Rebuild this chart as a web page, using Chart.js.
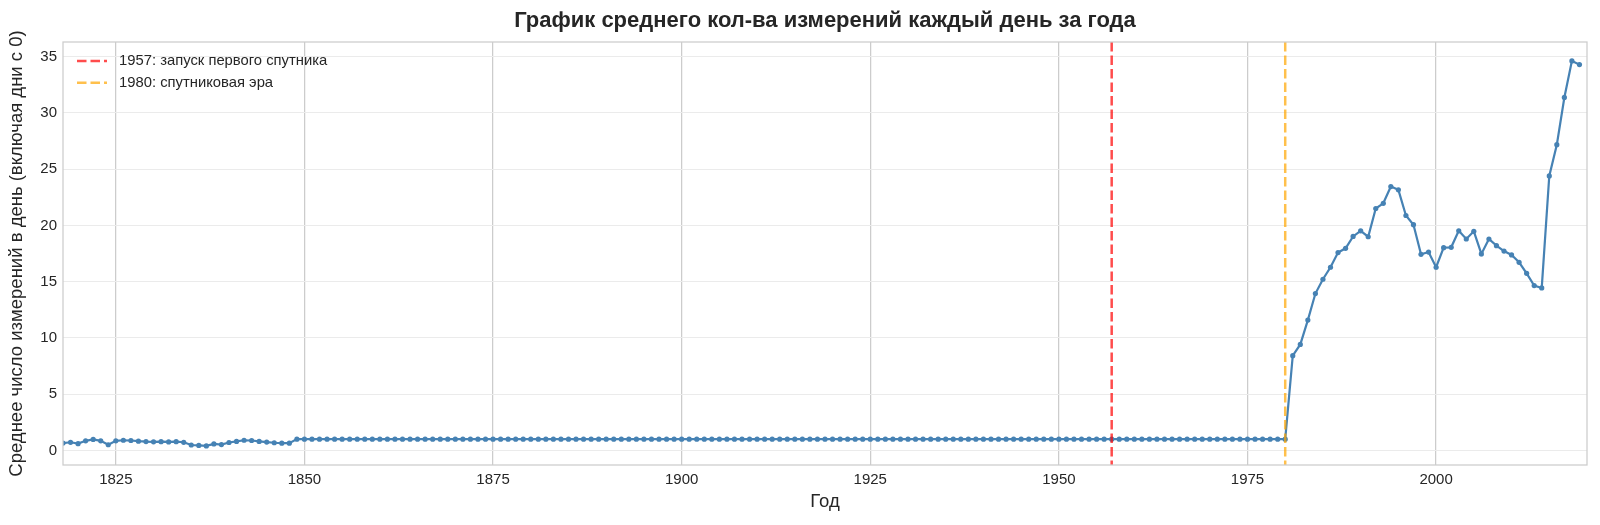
<!DOCTYPE html>
<html><head><meta charset="utf-8">
<script src="https://cdn.jsdelivr.net/npm/chart.js@4/dist/chart.umd.min.js"></script>
<style>html,body{margin:0;padding:0;background:#fff;overflow:hidden}</style>
</head><body>
<canvas id="c" width="1600" height="525"></canvas>
<script>
const years = [
  1818,1819,1820,1821,1822,1823,1824,1825,1826,1827,
  1828,1829,1830,1831,1832,1833,1834,1835,1836,1837,
  1838,1839,1840,1841,1842,1843,1844,1845,1846,1847,
  1848,1849,1850,1851,1852,1853,1854,1855,1856,1857,
  1858,1859,1860,1861,1862,1863,1864,1865,1866,1867,
  1868,1869,1870,1871,1872,1873,1874,1875,1876,1877,
  1878,1879,1880,1881,1882,1883,1884,1885,1886,1887,
  1888,1889,1890,1891,1892,1893,1894,1895,1896,1897,
  1898,1899,1900,1901,1902,1903,1904,1905,1906,1907,
  1908,1909,1910,1911,1912,1913,1914,1915,1916,1917,
  1918,1919,1920,1921,1922,1923,1924,1925,1926,1927,
  1928,1929,1930,1931,1932,1933,1934,1935,1936,1937,
  1938,1939,1940,1941,1942,1943,1944,1945,1946,1947,
  1948,1949,1950,1951,1952,1953,1954,1955,1956,1957,
  1958,1959,1960,1961,1962,1963,1964,1965,1966,1967,
  1968,1969,1970,1971,1972,1973,1974,1975,1976,1977,
  1978,1979,1980,1981,1982,1983,1984,1985,1986,1987,
  1988,1989,1990,1991,1992,1993,1994,1995,1996,1997,
  1998,1999,2000,2001,2002,2003,2004,2005,2006,2007,
  2008,2009,2010,2011,2012,2013,2014,2015,2016,2017,
  2018,2019
];
const avgMeasurements = [
  0.65,0.72,0.60,0.85,0.97,0.85,0.50,0.85,0.90,0.88,
  0.82,0.78,0.76,0.77,0.75,0.77,0.72,0.48,0.44,0.40,
  0.57,0.52,0.70,0.80,0.90,0.88,0.80,0.74,0.68,0.64,
  0.64,
  1.0,1.0,1.0,1.0,1.0,1.0,1.0,1.0,1.0,1.0,1.0,1.0,
  1.0,1.0,1.0,1.0,1.0,1.0,1.0,1.0,1.0,1.0,1.0,1.0,
  1.0,1.0,1.0,1.0,1.0,1.0,1.0,1.0,1.0,1.0,1.0,1.0,
  1.0,1.0,1.0,1.0,1.0,1.0,1.0,1.0,1.0,1.0,1.0,1.0,
  1.0,1.0,1.0,1.0,1.0,1.0,1.0,1.0,1.0,1.0,1.0,1.0,
  1.0,1.0,1.0,1.0,1.0,1.0,1.0,1.0,1.0,1.0,1.0,1.0,
  1.0,1.0,1.0,1.0,1.0,1.0,1.0,1.0,1.0,1.0,1.0,1.0,
  1.0,1.0,1.0,1.0,1.0,1.0,1.0,1.0,1.0,1.0,1.0,1.0,
  1.0,1.0,1.0,1.0,1.0,1.0,1.0,1.0,1.0,1.0,1.0,1.0,
  1.0,1.0,1.0,1.0,1.0,1.0,1.0,1.0,1.0,1.0,1.0,1.0,
  1.0,1.0,1.0,1.0,1.0,1.0,1.0,1.0,1.0,1.0,1.0,1.0,
  8.42,9.42,11.58,13.94,15.21,16.28,17.58,17.96,19.02,19.52,
  18.99,21.50,21.96,23.45,23.16,20.88,20.06,17.43,17.63,16.28,
  18.02,18.05,19.52,18.79,19.47,17.46,18.79,18.20,17.72,17.37,
  16.72,15.74,14.65,14.44,24.40,27.17,31.37,34.62,34.29
];
const xTickValues = [1825,1850,1875,1900,1925,1950,1975,2000];
const yTickValues = [0,5,10,15,20,25,30,35];
const eventYears = [1957, 1980];
const eventLabels = ['1957: запуск первого спутника', '1980: спутниковая эра'];
const eventColors = ['rgba(255,0,0,0.7)', 'rgba(255,165,0,0.7)'];
const chartTitle = 'График среднего кол-ва измерений каждый день за года';
const xAxisTitle = 'Год';
const yAxisTitle = 'Среднее число измерений в день (включая дни с 0)';

const FONT = "'Liberation Sans', Arial, sans-serif";
Chart.defaults.font.family = FONT;
Chart.defaults.color = '#262626';

const eventLinesPlugin = {
  id: 'eventLines',
  afterDatasetsDraw(chart) {
    const {ctx, chartArea, scales} = chart;
    const x = scales.x;
    ctx.save();
    ctx.beginPath();
    ctx.rect(chartArea.left, chartArea.top, chartArea.width, chartArea.height);
    ctx.clip();
    eventYears.forEach((yr, i) => {
      const px = x.getPixelForValue(yr);
      ctx.strokeStyle = eventColors[i];
      ctx.lineWidth = 2.5;
      ctx.setLineDash([9.5, 4]);
      ctx.beginPath();
      ctx.moveTo(px, chartArea.top);
      ctx.lineTo(px, chartArea.bottom);
      ctx.stroke();
    });
    ctx.restore();
  },
  afterDraw(chart) {
    const {ctx, chartArea} = chart;
    ctx.save();
    ctx.strokeStyle = '#cccccc';
    ctx.lineWidth = 1.25;
    ctx.setLineDash([]);
    ctx.strokeRect(chartArea.left, chartArea.top, chartArea.width, chartArea.height);
    ctx.font = "14.8px " + FONT;
    ctx.textBaseline = 'middle';
    ctx.textAlign = 'left';
    eventLabels.forEach((lab, i) => {
      const cy = chartArea.top + 19 + i * 21.7;
      ctx.strokeStyle = eventColors[i];
      ctx.lineWidth = 2.5;
      ctx.setLineDash([9.5, 4]);
      ctx.beginPath();
      ctx.moveTo(chartArea.left + 14, cy);
      ctx.lineTo(chartArea.left + 44, cy);
      ctx.stroke();
      ctx.fillStyle = '#262626';
      ctx.fillText(lab, chartArea.left + 56, cy);
    });
    ctx.restore();
  }
};

new Chart(document.getElementById('c'), {
  type: 'line',
  data: {
    datasets: [{
      label: 'avg',
      data: years.map((y, i) => ({x: y, y: avgMeasurements[i]})),
      borderColor: '#4682b4',
      backgroundColor: '#4682b4',
      borderWidth: 2.2,
      pointRadius: 2.6,
      pointBorderWidth: 0,
      pointBackgroundColor: '#4682b4',
      tension: 0,
      fill: false
    }]
  },
  options: {
    responsive: false,
    animation: false,
    devicePixelRatio: 1,
    layout: {padding: {left: 0, right: 13, top: 0, bottom: 0}},
    plugins: {
      legend: {display: false},
      tooltip: {enabled: false},
      title: {
        display: true,
        text: chartTitle,
        fullSize: false,
        font: {size: 22, weight: 'bold', family: FONT},
        color: '#262626',
        padding: {top: 8.2, bottom: 7.4}
      }
    },
    scales: {
      x: {
        type: 'linear',
        min: 1818,
        max: 2020,
        afterBuildTicks: s => { s.ticks = xTickValues.map(v => ({value: v})); },
        afterFit: s => { s.height = 60; },
        grid: {color: '#cccccc', lineWidth: 1.25, drawTicks: false},
        border: {display: false},
        ticks: {padding: 6, font: {size: 15}, maxRotation: 0, autoSkip: false, color: '#262626',
          callback: v => String(v)},
        title: {display: true, text: xAxisTitle, font: {size: 18.5}, color: '#262626', padding: {top: 0, bottom: 12.4}}
      },
      y: {
        type: 'linear',
        min: -1.3,
        max: 36.3,
        afterBuildTicks: s => { s.ticks = yTickValues.map(v => ({value: v})); },
        afterFit: s => { s.width = 63; },
        grid: {color: '#ebebeb', lineWidth: 1, drawTicks: false},
        border: {display: false},
        ticks: {padding: 6, font: {size: 15}, color: '#262626', callback: v => String(v)},
        title: {display: true, text: yAxisTitle, font: {size: 18.5}, color: '#262626', padding: {top: 5.5, bottom: 0}}
      }
    }
  },
  plugins: [eventLinesPlugin]
});
</script>
</body></html>
